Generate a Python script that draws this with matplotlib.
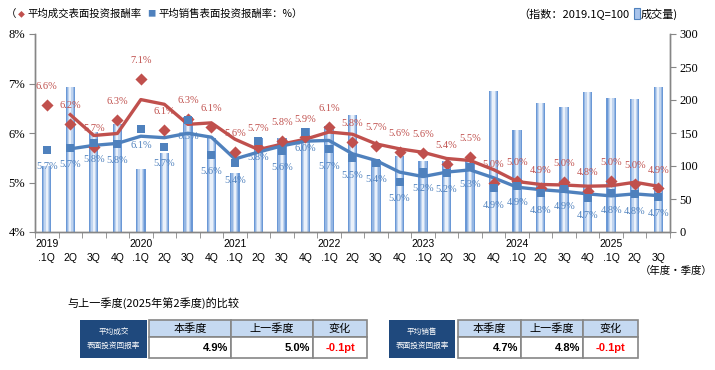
import numpy as np
import pandas as pd
import matplotlib
matplotlib.use("Agg")
import matplotlib.pyplot as plt
from matplotlib.patches import Rectangle

# quarter labels (year shown on the first quarter of each year)
tick_labels = ['2019\n.1Q', '\n2Q', '\n3Q', '\n4Q',
               '2020\n.1Q', '\n2Q', '\n3Q', '\n4Q',
               '2021\n.1Q', '\n2Q', '\n3Q', '\n4Q',
               '2022\n.1Q', '\n2Q', '\n3Q', '\n4Q',
               '2023\n.1Q', '\n2Q', '\n3Q', '\n4Q',
               '2024\n.1Q', '\n2Q', '\n3Q', '\n4Q',
               '2025\n.1Q', '\n2Q', '\n3Q']

# transaction volume index (2019.1Q = 100)
volume = [100, 220, 152, 164, 95, 119, 174, 143,
          89, 142, 142, 157, 160, 177, 109, 115,
          107, 107, 108, 213, 155, 196, 190, 212,
          203, 201, 220]

# average transaction surface yield (%)
deal_yield = [6.56, 6.18, 5.72, 6.26, 7.09, 6.07, 6.28, 6.13,
              5.62, 5.71, 5.84, 5.91, 6.13, 5.82, 5.74, 5.62,
              5.60, 5.37, 5.52, 5.00, 5.04, 4.88, 5.02, 4.83,
              5.04, 4.97, 4.88]

# average asking surface yield (%)
ask_yield = [5.66, 5.70, 5.80, 5.78, 6.09, 5.72, 6.27, 5.56,
             5.39, 5.84, 5.64, 6.03, 5.67, 5.49, 5.40, 5.02,
             5.22, 5.20, 5.31, 4.88, 4.93, 4.78, 4.86, 4.68,
             4.78, 4.76, 4.71]

# comparison tables
table_header = ['本季度', '上一季度', '变化']
deal_row = ['4.9%', '5.0%', '-0.1pt']
ask_row = ['4.7%', '4.8%', '-0.1pt']

RED = '#C0504D'
BLUE = '#4F81BD'
GRAY = '#868686'
CJK = ['Noto Sans CJK SC', 'DejaVu Sans']
SERIF = 'Liberation Serif'

x = np.arange(len(tick_labels))
deal_ma = pd.Series(deal_yield).rolling(2).mean()
ask_ma = pd.Series(ask_yield).rolling(2).mean()

fig = plt.figure(figsize=(7.15, 3.7), dpi=100)
ax = fig.add_axes([35 / 715, 1 - 232 / 370, 635 / 715, 198 / 370])
ax2 = ax.twinx()

# bars with a light centre, drawn as nested bars
shades = [(0.40, '#6A98D6'), (0.30, '#94B6E3'), (0.20, '#C0D4EF'), (0.10, '#EAF1FA')]
for w, c in shades:
    ax2.bar(x, volume, width=w, color=c, linewidth=0)

ax.set_zorder(ax2.get_zorder() + 1)
ax.patch.set_visible(False)

ax.plot(x, deal_ma, color=RED, lw=2.4, zorder=3)
ax.plot(x, ask_ma, color=BLUE, lw=2.4, zorder=3)
ax.scatter(x, deal_yield, marker='D', s=38, color=RED, zorder=4, linewidths=0)
ax.scatter(x, ask_yield, marker='s', s=36, color=BLUE, zorder=4, linewidths=0)

for xi, v in zip(x, deal_yield):
    ax.annotate(f"{v:.1f}%", (xi, v), xytext=(0, 10), textcoords='offset points',
                ha='center', va='bottom', fontsize=7.5, color=RED, family=SERIF)
for xi, v in zip(x, ask_yield):
    ax.annotate(f"{v:.1f}%", (xi, v), xytext=(0, -9), textcoords='offset points',
                ha='center', va='top', fontsize=7.5, color=BLUE, family=SERIF)

ax.set_xlim(-0.5, 26.5)
ax.set_ylim(4, 8)
ax.set_yticks([4, 5, 6, 7, 8])
ax.set_yticklabels([f"{t}%" for t in range(4, 9)], family=SERIF, fontsize=9)
ax2.set_ylim(0, 300)
ax2.set_yticks(range(0, 301, 50))
ax2.set_yticklabels([str(t) for t in range(0, 301, 50)], family=SERIF, fontsize=9)

ax.set_xticks(x)
ax.set_xticklabels(tick_labels, fontsize=7.5, family='Liberation Sans', linespacing=1.5)
ax.set_xticks(np.arange(-0.5, 27, 1), minor=True)
ax.tick_params(axis='x', which='major', length=0, pad=5)
ax.tick_params(axis='x', which='minor', length=4, color=GRAY, direction='out')
ax.tick_params(axis='y', length=4, color=GRAY, pad=3)
ax2.tick_params(axis='y', length=4, color=GRAY, pad=3)

for a in (ax, ax2):
    a.spines['top'].set_visible(False)
    for s in ('left', 'right', 'bottom'):
        a.spines[s].set_color(GRAY)
        a.spines[s].set_linewidth(1.0)

# overlay in pixel coordinates for captions and the tables
ov = fig.add_axes([0, 0, 1, 1])
ov.set_xlim(0, 715)
ov.set_ylim(370, 0)
ov.axis('off')

ov.text(6, 14, '（', fontsize=7.5, family=CJK, va='center', ha='left')
ov.text(21, 14, '◆', fontsize=5, family=CJK, color=RED, va='center', ha='center')
ov.text(27, 14, '平均成交表面投资报酬率', fontsize=7.5, family=CJK, va='center', ha='left')
ov.text(151, 14, '■', fontsize=6, family=CJK, color=BLUE, va='center', ha='center')
ov.text(158, 14, '平均销售表面投资报酬率：%）', fontsize=7.5, family=CJK, va='center', ha='left')

ov.text(518, 14, '（指数：2019.1Q=100', fontsize=8, family=CJK, va='center', ha='left')
ov.add_patch(Rectangle((634, 8), 6, 11, facecolor='#A9C4EB', edgecolor=BLUE, lw=0.8))
ov.text(641, 14, '成交量)', fontsize=8, family=CJK, va='center', ha='left')
ov.text(640, 271, '（年度・季度）', fontsize=7.5, family=CJK, va='center', ha='left')

ov.text(67, 303, '与上一季度(2025年第2季度)的比较', fontsize=8, family=CJK, va='center', ha='left')


def draw_table(box_x, cols, label, row):
    ov.add_patch(Rectangle((box_x[0], 320), box_x[1] - box_x[0], 38,
                           facecolor='#1F497D', edgecolor='none'))
    ov.text((box_x[0] + box_x[1]) / 2, 339, label, fontsize=5.5, family=CJK,
            color='white', ha='center', va='center', linespacing=1.9)
    for (c0, c1), head, val in zip(cols, table_header, row):
        ov.add_patch(Rectangle((c0, 320), c1 - c0, 17, facecolor='#C5D9F1',
                               edgecolor=GRAY, lw=1.2))
        ov.add_patch(Rectangle((c0, 337), c1 - c0, 21, facecolor='white',
                               edgecolor=GRAY, lw=1.2))
        ov.text((c0 + c1) / 2, 328.5, head, fontsize=8, family=CJK,
                ha='center', va='center')
        if val.endswith('pt'):
            ov.text((c0 + c1) / 2, 348, val, fontsize=8, family='Liberation Sans',
                    weight='bold', color='#FF0000', ha='center', va='center')
        else:
            ov.text(c1 - 3, 348, val, fontsize=8, family='Liberation Sans',
                    weight='bold', ha='right', va='center')


draw_table((80, 147), [(149, 231), (231, 313), (313, 367)], '平均成交\n表面投资回报率', deal_row)
draw_table((389, 455), [(458, 521), (521, 583), (583, 638)], '平均销售\n表面投资回报率', ask_row)

fig.savefig('out.png', dpi=100)
